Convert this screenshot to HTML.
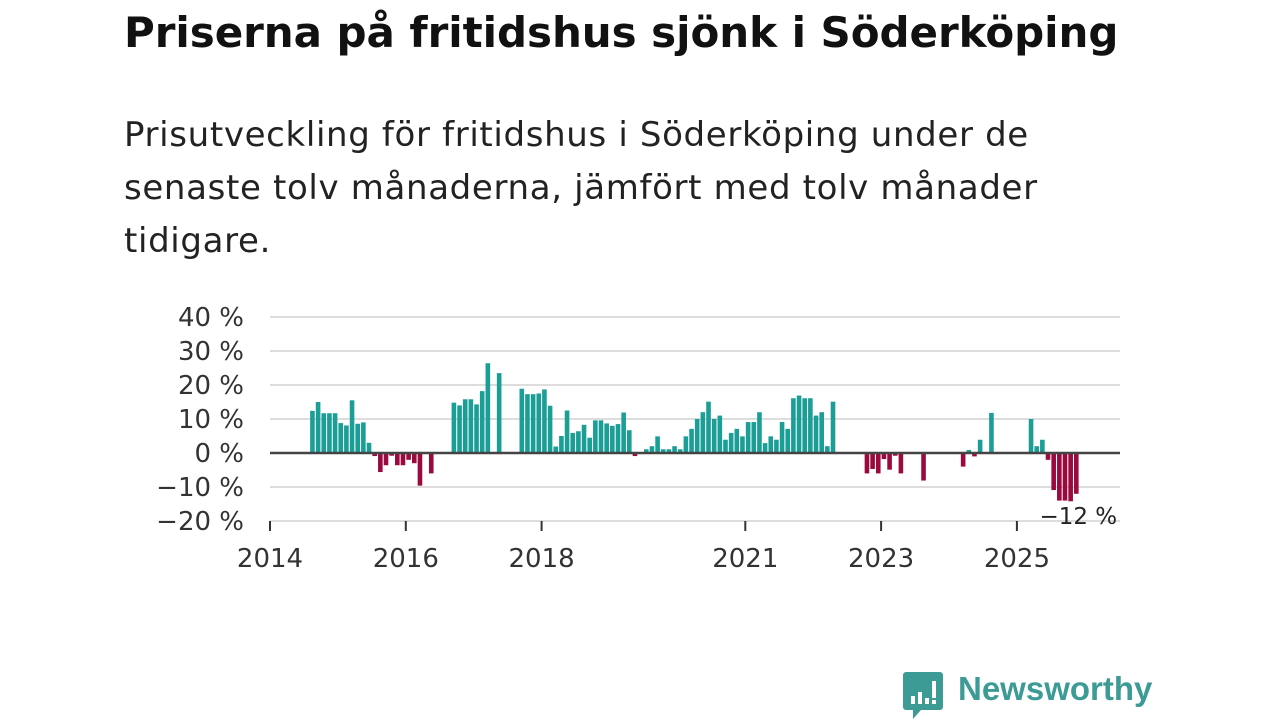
<!DOCTYPE html>
<html><head><meta charset="utf-8"><style>
body{margin:0;width:1280px;height:720px;background:#fff;overflow:hidden;font-family:"DejaVu Sans","Liberation Sans",sans-serif;color:#111}
#title{position:absolute;left:124px;top:8px;font-size:42px;font-weight:bold;margin:0;white-space:nowrap;letter-spacing:-0.05px}
#sub{position:absolute;left:124px;top:109px;font-size:34px;line-height:53px;margin:0;white-space:nowrap;color:#222;letter-spacing:0.65px}
svg{position:absolute;left:0;top:0}
</style></head><body>
<h1 id="title">Priserna på fritidshus sjönk i Söderköping</h1>
<p id="sub">Prisutveckling för fritidshus i Söderköping under de<br>senaste tolv månaderna, jämfört med tolv månader<br>tidigare.</p>
<svg id="chart" width="1280" height="720"></svg>
<div style="position:absolute;left:903px;top:672px;">
<svg width="42" height="48" style="position:absolute;left:0;top:0"><path d="M3 0h34a3 3 0 0 1 3 3v32a3 3 0 0 1-3 3H18l-8 9v-9H3a3 3 0 0 1-3-3V3a3 3 0 0 1 3-3z" fill="#3d9b96"/><rect x="8" y="24" width="4" height="8" fill="#fff"/><rect x="15" y="20" width="4" height="12" fill="#fff"/><rect x="22" y="26" width="4" height="6" fill="#fff"/><rect x="29" y="9" width="4" height="17" fill="#fff"/><rect x="29" y="28" width="4" height="4" fill="#fff"/></svg>
<span style="position:absolute;left:55px;top:-2px;font-size:33px;font-weight:bold;color:#3d9b96;white-space:nowrap;font-family:'Liberation Sans',sans-serif">Newsworthy</span></div>
<script>
const yTicks=[40,30,20,10,0,-10,-20];
const yTickLabels=["40 %","30 %","20 %","10 %","0 %","\u221210 %","\u221220 %"];
const xTickYears=[2014,2016,2018,2021,2023,2025];
const startMonth=7; // Aug 2014 = month index 7 from Jan 2014
const values=[12.4,15,11.7,11.7,11.7,8.8,8.1,15.5,8.6,9,3,-0.9,-5.6,-3.6,-0.8,-3.6,-3.6,-2,-3,-9.6,null,-6,null,null,null,14.8,14,15.8,15.8,14.3,18.2,26.4,null,23.5,null,null,null,18.9,17.3,17.3,17.5,18.7,13.9,1.9,5,12.5,5.9,6.4,8.3,4.5,9.6,9.6,8.7,8,8.5,11.9,6.7,-0.9,null,1.1,2,4.9,1.1,1.1,2,1.1,4.9,7.1,10,12,15.1,10,11,3.9,5.9,7.1,4.9,9.1,9.1,12,2.9,4.9,3.9,9.1,7.1,16.1,16.9,16.1,16.1,11,12,2,15.1,null,null,null,null,null,-6,-4.7,-6,-1.8,-4.9,-0.8,-6,null,null,null,-8.1,null,null,null,null,null,null,-4,0.9,-1,3.9,null,11.8,null,null,null,null,null,null,10,2,3.9,-2,-10.9,-14,-14,-14.2,-12];
const lastLabel="\u221212 %";
const NS="http://www.w3.org/2000/svg",svg=document.getElementById('chart');
const x0=270,x1=1120,pxYear=67.9;
const y=v=>453-v*3.4;
const xm=m=>x0+m*pxYear/12;
const FF='DejaVu Sans, Liberation Sans, sans-serif';
function mk(t,a){const e=document.createElementNS(NS,t);for(const k in a)e.setAttribute(k,a[k]);svg.appendChild(e);return e;}
yTicks.forEach((t,i)=>{
 if(t!==0){const g=mk('line',{x1:x0,x2:x1,y1:y(t),y2:y(t),stroke:'#ddd','stroke-width':2});
 
 }
 const l=mk('text',{x:244,y:y(t)+9,'text-anchor':'end','font-size':26,fill:'#333','font-family':FF});
 l.textContent=yTickLabels[i];
 
 
});
xTickYears.forEach(yr=>{
 const xx=xm((yr-2014)*12);
 const t=mk('line',{x1:xx,x2:xx,y1:521,y2:531,stroke:'#333','stroke-width':2});
 
 
 const l=mk('text',{x:xx,y:567,'text-anchor':'middle','font-size':26,fill:'#333','font-family':FF});
 l.textContent=yr;
 
 
});
let lastI=0;
values.forEach((v,i)=>{
 if(v===null)return;lastI=i;
 const cx=xm(startMonth+i+0.5);
 const r=mk('rect',{x:cx-2.3,width:4.6,y:Math.min(y(v),y(0)),height:Math.abs(y(v)-y(0)),fill:v>=0?'#1a9e96':'#9b0a3e'});
 
 
});
const z=mk('line',{x1:x0,x2:x1,y1:y(0),y2:y(0),stroke:'#444','stroke-width':2.5});


const ll=mk('text',{x:xm(startMonth+lastI+0.5)+2,y:y(values[lastI])+30,'text-anchor':'middle','font-size':23,fill:'#222','font-family':FF});
ll.textContent=lastLabel;


</script>
</body></html>
